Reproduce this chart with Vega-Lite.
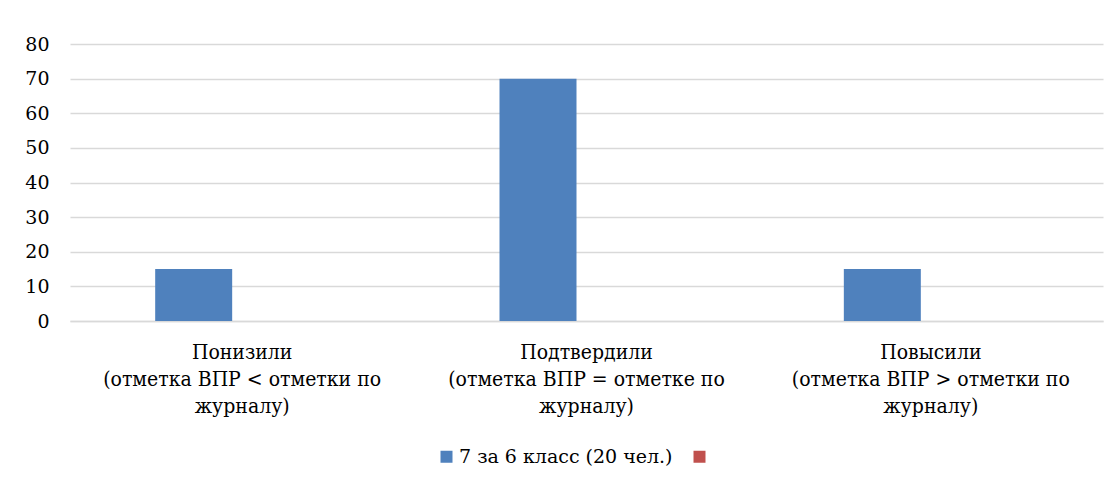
{
  "$schema": "https://vega.github.io/schema/vega-lite/v6.json",
  "autosize": {"type": "none"},
  "width": 1033,
  "height": 277,
  "padding": {"left": 70, "top": 44, "right": 16, "bottom": 168},
  "background": "white",
  "data": {"values": [
    {"cat": "Понизили\n(отметка ВПР < отметки по\nжурналу)", "series": "7 за 6 класс (20 чел.)", "value": 15},
    {"cat": "Подтвердили\n(отметка ВПР = отметке по\nжурналу)", "series": "7 за 6 класс (20 чел.)", "value": 70},
    {"cat": "Повысили\n(отметка ВПР > отметки по\nжурналу)", "series": "7 за 6 класс (20 чел.)", "value": 15},
    {"cat": "Понизили\n(отметка ВПР < отметки по\nжурналу)", "series": " ", "value": null},
    {"cat": "Подтвердили\n(отметка ВПР = отметке по\nжурналу)", "series": " ", "value": null},
    {"cat": "Повысили\n(отметка ВПР > отметки по\nжурналу)", "series": " ", "value": null}
  ]},
  "mark": {"type": "bar", "stroke": null},
  "encoding": {
    "x": {
      "field": "cat", "type": "nominal", "sort": null, "title": null,
      "scale": {"paddingInner": 0.4947, "paddingOuter": 0.2474},
      "axis": {
        "labelAngle": 0, "ticks": false, "domainColor": "#d9d9d9", "domainWidth": 1.5,
        "labelExpr": "split(datum.label, '\\n')",
        "labelFont": "DejaVu Serif Condensed", "labelFontSize": 21, "labelColor": "#000000",
        "labelLineHeight": 27, "labelPadding": 20, "labelLimit": 400
      }
    },
    "xOffset": {
      "field": "series", "type": "nominal",
      "scale": {"domain": ["7 за 6 класс (20 чел.)", " "], "paddingInner": 0, "paddingOuter": 0.1299, "align": 0}
    },
    "y": {
      "field": "value", "type": "quantitative", "title": null,
      "scale": {"domain": [0, 80], "nice": false},
      "axis": {
        "values": [0, 10, 20, 30, 40, 50, 60, 70, 80],
        "ticks": false, "domain": false, "gridColor": "#d9d9d9", "gridWidth": 1.5,
        "labelFont": "DejaVu Serif", "labelFontSize": 19, "labelColor": "#000000",
        "labelPadding": 21
      }
    },
    "color": {
      "field": "series", "type": "nominal", "title": null,
      "scale": {"domain": ["7 за 6 класс (20 чел.)", " "], "range": ["#4f81bd", "#c0504d"]},
      "legend": {
        "orient": "none", "direction": "horizontal", "legendX": 367, "legendY": 403,
        "symbolType": "square", "symbolSize": 144, "symbolStrokeWidth": 0, "symbolOpacity": 1,
        "labelFont": "DejaVu Serif", "labelFontSize": 19, "labelColor": "#000000",
        "labelOffset": 3, "columnPadding": 17, "labelLimit": 400
      }
    }
  },
  "config": {"view": {"stroke": null}}
}
